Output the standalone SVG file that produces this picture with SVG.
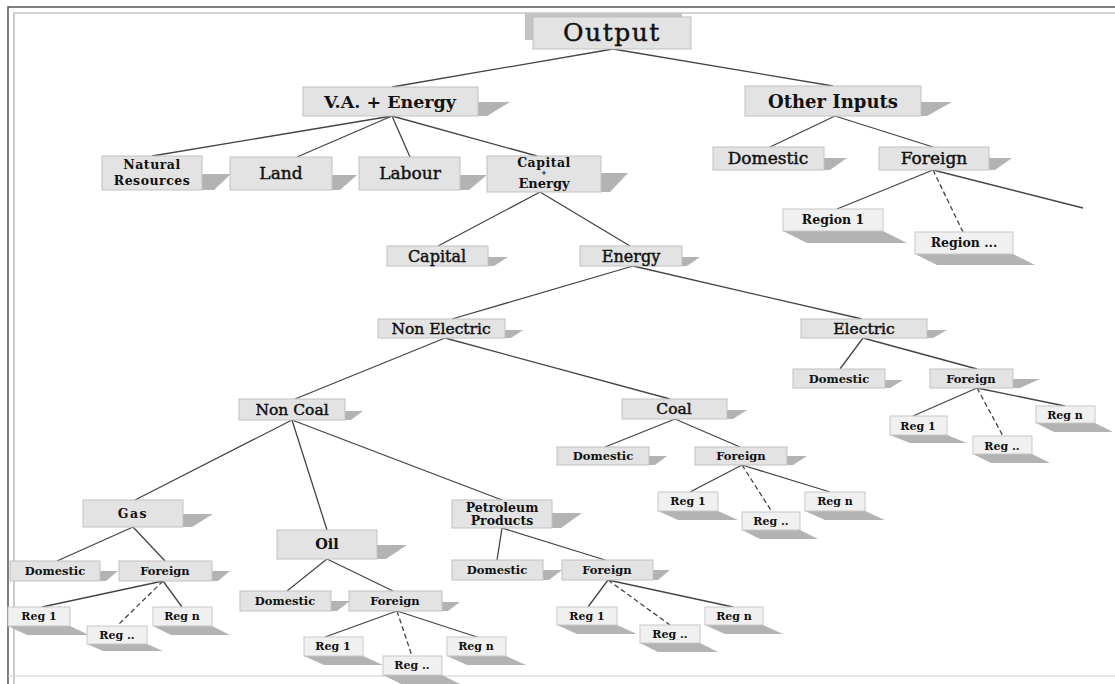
<svg xmlns="http://www.w3.org/2000/svg" width="1115" height="684" viewBox="0 0 1115 684">
<style>
.bx{fill:#e3e3e3;stroke:#c2c2c2;stroke-width:1}
.bl{fill:#f0f0f0;stroke:#c8c8c8;stroke-width:1}
.sh{fill:#b3b3b3}
.t{font-family:"DejaVu Serif","Liberation Serif",serif;fill:#111;text-anchor:middle}
.m{stroke:#111;stroke-width:0.45}
.b{font-weight:bold}
.c line{stroke:#444;stroke-width:1.3}
.c line.d{stroke-dasharray:5 3}
</style>
<rect x="0" y="0" width="1115" height="684" fill="#fff"/>
<g id="frame" fill="none">
<polyline points="8,684 8,7 1115,7" stroke="#555" stroke-width="1.5"/>
<polyline points="14,684 14,13 1115,13" stroke="#aaa" stroke-width="1.2"/>
<line x1="8" y1="676" x2="1115" y2="676" stroke="#ccc" stroke-width="1"/>
</g>
<g id="connectors" class="c">
<line x1="613" y1="49" x2="392" y2="87"/>
<line x1="613" y1="49" x2="833" y2="86"/>
<line x1="392" y1="116" x2="152" y2="156"/>
<line x1="392" y1="116" x2="297" y2="157"/>
<line x1="392" y1="116" x2="410" y2="157"/>
<line x1="392" y1="116" x2="537" y2="156"/>
<line x1="540" y1="192" x2="438" y2="246"/>
<line x1="540" y1="192" x2="630" y2="246"/>
<line x1="633" y1="266" x2="452" y2="319"/>
<line x1="633" y1="266" x2="862" y2="319"/>
<line x1="863" y1="338" x2="840" y2="369"/>
<line x1="863" y1="338" x2="977" y2="369"/>
<line x1="977" y1="388" x2="913" y2="416"/>
<line class="d" x1="977" y1="388" x2="1003" y2="436"/>
<line x1="977" y1="388" x2="1065" y2="406"/>
<line x1="835" y1="116" x2="770" y2="147"/>
<line x1="835" y1="116" x2="933" y2="147"/>
<line x1="933" y1="170" x2="837" y2="209"/>
<line class="d" x1="933" y1="170" x2="963" y2="232"/>
<line x1="933" y1="170" x2="1083" y2="208"/>
<line x1="445" y1="338" x2="295" y2="399"/>
<line x1="445" y1="338" x2="670" y2="399"/>
<line x1="292" y1="420" x2="135" y2="500"/>
<line x1="292" y1="420" x2="327" y2="530"/>
<line x1="292" y1="420" x2="502" y2="500"/>
<line x1="133" y1="527" x2="57" y2="561"/>
<line x1="133" y1="527" x2="165" y2="561"/>
<line x1="163" y1="581" x2="42" y2="607"/>
<line class="d" x1="163" y1="581" x2="117" y2="626"/>
<line x1="163" y1="581" x2="182" y2="607"/>
<line x1="327" y1="559" x2="287" y2="591"/>
<line x1="327" y1="559" x2="393" y2="591"/>
<line x1="397" y1="611" x2="325" y2="637"/>
<line class="d" x1="397" y1="611" x2="412" y2="656"/>
<line x1="397" y1="611" x2="477" y2="637"/>
<line x1="502" y1="528" x2="497" y2="560"/>
<line x1="502" y1="528" x2="605" y2="560"/>
<line x1="608" y1="580" x2="588" y2="607"/>
<line class="d" x1="608" y1="580" x2="670" y2="625"/>
<line x1="608" y1="580" x2="733" y2="607"/>
<line x1="675" y1="419" x2="605" y2="447"/>
<line x1="675" y1="419" x2="740" y2="447"/>
<line x1="742" y1="465" x2="690" y2="492"/>
<line class="d" x1="742" y1="465" x2="772" y2="512"/>
<line x1="742" y1="465" x2="830" y2="492"/>
</g>
<g id="output"><rect x="525" y="13" width="157" height="27" fill="#c4c4c4"/><rect class="bx" x="533" y="17" width="158" height="32"/><text class="t m" x="612" y="41" font-size="25" letter-spacing="1.5">Output</text></g>
<g id="va"><polygon class="sh" points="477,102 510,102 487,116 477,116"/><rect class="bx" x="303" y="87" width="175" height="29"/><text class="t b" x="390" y="108" font-size="17.5">V.A. + Energy</text></g>
<g id="other"><polygon class="sh" points="920,102 952,102 927,116 920,116"/><rect class="bx" x="745" y="86" width="176" height="30"/><text class="t b" x="833" y="108" font-size="18">Other Inputs</text></g>
<g id="natres"><polygon class="sh" points="201,174 231,174 214,190 201,190"/><rect class="bx" x="102" y="156" width="100" height="34"/><text class="t b" x="152" y="169" font-size="12.5" letter-spacing="0.5">Natural</text><text class="t b" x="152" y="185" font-size="12.5" letter-spacing="0.5">Resources</text></g>
<g id="land"><polygon class="sh" points="331,175 357,175 340,190 331,190"/><rect class="bx" x="230" y="157" width="102" height="33"/><text class="t m" x="281" y="179" font-size="17">Land</text></g>
<g id="labour"><polygon class="sh" points="459,175 487,175 469,190 459,190"/><rect class="bx" x="359" y="157" width="101" height="33"/><text class="t m" x="410" y="179" font-size="17">Labour</text></g>
<g id="capen"><polygon class="sh" points="600,173 628,173 610,192 600,192"/><rect class="bx" x="487" y="156" width="114" height="36"/><text class="t b" x="544" y="167" font-size="12.5" letter-spacing="0.5">Capital</text><text class="t b" x="544" y="175" font-size="7">+</text><text class="t b" x="544" y="188" font-size="13">Energy</text></g>
<g id="capital"><polygon class="sh" points="487,257 508,257 494,266 487,266"/><rect class="bx" x="387" y="246" width="101" height="20"/><text class="t m" x="437" y="262" font-size="16">Capital</text></g>
<g id="energy"><polygon class="sh" points="681,257 700,257 687,266 681,266"/><rect class="bx" x="580" y="246" width="102" height="20"/><text class="t m" x="631" y="262" font-size="16">Energy</text></g>
<g id="nonelectric"><polygon class="sh" points="504,330 523,330 511,338 504,338"/><rect class="bx" x="378" y="319" width="127" height="19"/><text class="t m" x="441" y="334" font-size="15.5">Non Electric</text></g>
<g id="electric"><polygon class="sh" points="926,330 947,330 933,338 926,338"/><rect class="bx" x="801" y="319" width="126" height="19"/><text class="t m" x="864" y="334" font-size="15.5">Electric</text></g>
<g id="el-domestic"><polygon class="sh" points="884,380 903,380 890,388 884,388"/><rect class="bx" x="793" y="369" width="92" height="19"/><text class="t b" x="839" y="383" font-size="11.5">Domestic</text></g>
<g id="el-foreign"><polygon class="sh" points="1012,379 1040,379 1020,388 1012,388"/><rect class="bx" x="930" y="369" width="83" height="19"/><text class="t b" x="971" y="383" font-size="11.5">Foreign</text></g>
<g id="el-reg1"><polygon class="sh" points="890,435 947,435 967,443 910,443"/><rect class="bl" x="890" y="416" width="57" height="19"/><text class="t b" x="918" y="430" font-size="11">Reg 1</text></g>
<g id="el-regdots"><polygon class="sh" points="973,454 1032,454 1050,463 991,463"/><rect class="bl" x="973" y="436" width="59" height="18"/><text class="t b" x="1002" y="450" font-size="11">Reg ..</text></g>
<g id="el-regn"><polygon class="sh" points="1036,423 1095,423 1113,432 1054,432"/><rect class="bl" x="1036" y="406" width="59" height="17"/><text class="t b" x="1065" y="419" font-size="11">Reg n</text></g>
<g id="oi-domestic"><polygon class="sh" points="823,158 847,158 830,170 823,170"/><rect class="bx" x="713" y="147" width="111" height="23"/><text class="t m" x="768" y="164" font-size="17">Domestic</text></g>
<g id="oi-foreign"><polygon class="sh" points="988,158 1012,158 995,170 988,170"/><rect class="bx" x="879" y="147" width="110" height="23"/><text class="t m" x="934" y="164" font-size="17">Foreign</text></g>
<g id="oi-region1"><polygon class="sh" points="783,231 883,231 907,243 807,243"/><rect class="bl" x="783" y="209" width="100" height="22"/><text class="t b" x="833" y="224" font-size="12.5">Region 1</text></g>
<g id="oi-regiondots"><polygon class="sh" points="915,254 1013,254 1035,265 937,265"/><rect class="bl" x="915" y="232" width="98" height="22"/><text class="t b" x="964" y="247" font-size="12.5">Region ...</text></g>
<g id="noncoal"><polygon class="sh" points="344,411 363,411 351,420 344,420"/><rect class="bx" x="239" y="399" width="106" height="21"/><text class="t m" x="292" y="415" font-size="15.5">Non Coal</text></g>
<g id="coal"><polygon class="sh" points="726,410 747,410 733,419 726,419"/><rect class="bx" x="622" y="399" width="105" height="20"/><text class="t m" x="674" y="414" font-size="15.5">Coal</text></g>
<g id="gas"><polygon class="sh" points="182,514 213,514 192,527 182,527"/><rect class="bx" x="83" y="500" width="100" height="27"/><text class="t b" x="133" y="518" font-size="12.5" letter-spacing="1.5">Gas</text></g>
<g id="oil"><polygon class="sh" points="376,545 407,545 386,559 376,559"/><rect class="bx" x="277" y="530" width="100" height="29"/><text class="t b" x="327" y="549" font-size="14.5">Oil</text></g>
<g id="petroleum"><polygon class="sh" points="551,513 582,513 561,528 551,528"/><rect class="bx" x="452" y="500" width="100" height="28"/><text class="t b" x="502" y="512" font-size="12.5">Petroleum</text><text class="t b" x="502" y="525" font-size="12.5">Products</text></g>
<g id="gas-domestic"><polygon class="sh" points="99,571 118,571 106,581 99,581"/><rect class="bx" x="10" y="561" width="90" height="20"/><text class="t b" x="55" y="575" font-size="11.5">Domestic</text></g>
<g id="gas-foreign"><polygon class="sh" points="211,571 230,571 218,581 211,581"/><rect class="bx" x="119" y="561" width="93" height="20"/><text class="t b" x="165" y="575" font-size="11.5">Foreign</text></g>
<g id="gas-reg1"><polygon class="sh" points="8,626 70,626 89,635 27,635"/><rect class="bl" x="8" y="607" width="62" height="19"/><text class="t b" x="39" y="620" font-size="11">Reg 1</text></g>
<g id="gas-regn"><polygon class="sh" points="153,626 212,626 230,635 171,635"/><rect class="bl" x="153" y="607" width="59" height="19"/><text class="t b" x="182" y="620" font-size="11">Reg n</text></g>
<g id="gas-regdots"><polygon class="sh" points="87,644 147,644 163,651 103,651"/><rect class="bl" x="87" y="626" width="60" height="18"/><text class="t b" x="117" y="639" font-size="11">Reg ..</text></g>
<g id="oil-domestic"><polygon class="sh" points="330,601 350,601 337,611 330,611"/><rect class="bx" x="240" y="591" width="91" height="20"/><text class="t b" x="285" y="605" font-size="11.5">Domestic</text></g>
<g id="oil-foreign"><polygon class="sh" points="441,602 460,602 448,611 441,611"/><rect class="bx" x="349" y="591" width="93" height="20"/><text class="t b" x="395" y="605" font-size="11.5">Foreign</text></g>
<g id="oil-reg1"><polygon class="sh" points="304,656 363,656 383,665 324,665"/><rect class="bl" x="304" y="637" width="59" height="19"/><text class="t b" x="333" y="650" font-size="11">Reg 1</text></g>
<g id="oil-regn"><polygon class="sh" points="447,656 506,656 526,665 467,665"/><rect class="bl" x="447" y="637" width="59" height="19"/><text class="t b" x="476" y="650" font-size="11">Reg n</text></g>
<g id="oil-regdots"><polygon class="sh" points="383,675 442,675 460,684 401,684"/><rect class="bl" x="383" y="656" width="59" height="19"/><text class="t b" x="412" y="669" font-size="11">Reg ..</text></g>
<g id="pet-domestic"><polygon class="sh" points="542,570 562,570 549,580 542,580"/><rect class="bx" x="452" y="560" width="91" height="20"/><text class="t b" x="497" y="574" font-size="11.5">Domestic</text></g>
<g id="pet-foreign"><polygon class="sh" points="652,570 670,570 658,580 652,580"/><rect class="bx" x="562" y="560" width="91" height="20"/><text class="t b" x="607" y="574" font-size="11.5">Foreign</text></g>
<g id="pet-reg1"><polygon class="sh" points="557,625 617,625 637,634 577,634"/><rect class="bl" x="557" y="607" width="60" height="18"/><text class="t b" x="587" y="620" font-size="11">Reg 1</text></g>
<g id="pet-regdots"><polygon class="sh" points="640,643 700,643 718,652 658,652"/><rect class="bl" x="640" y="625" width="60" height="18"/><text class="t b" x="670" y="638" font-size="11">Reg ..</text></g>
<g id="pet-regn"><polygon class="sh" points="705,625 763,625 783,634 725,634"/><rect class="bl" x="705" y="607" width="58" height="18"/><text class="t b" x="734" y="620" font-size="11">Reg n</text></g>
<g id="coal-domestic"><polygon class="sh" points="648,456 667,456 655,465 648,465"/><rect class="bx" x="557" y="447" width="92" height="18"/><text class="t b" x="603" y="460" font-size="11.5">Domestic</text></g>
<g id="coal-foreign"><polygon class="sh" points="786,456 807,456 793,465 786,465"/><rect class="bx" x="695" y="447" width="92" height="18"/><text class="t b" x="741" y="460" font-size="11.5">Foreign</text></g>
<g id="coal-reg1"><polygon class="sh" points="658,511 718,511 738,520 678,520"/><rect class="bl" x="658" y="492" width="60" height="19"/><text class="t b" x="688" y="505" font-size="11">Reg 1</text></g>
<g id="coal-regdots"><polygon class="sh" points="742,530 800,530 818,539 760,539"/><rect class="bl" x="742" y="512" width="58" height="18"/><text class="t b" x="771" y="525" font-size="11">Reg ..</text></g>
<g id="coal-regn"><polygon class="sh" points="805,511 865,511 885,520 825,520"/><rect class="bl" x="805" y="492" width="60" height="19"/><text class="t b" x="835" y="505" font-size="11">Reg n</text></g>
</svg>
